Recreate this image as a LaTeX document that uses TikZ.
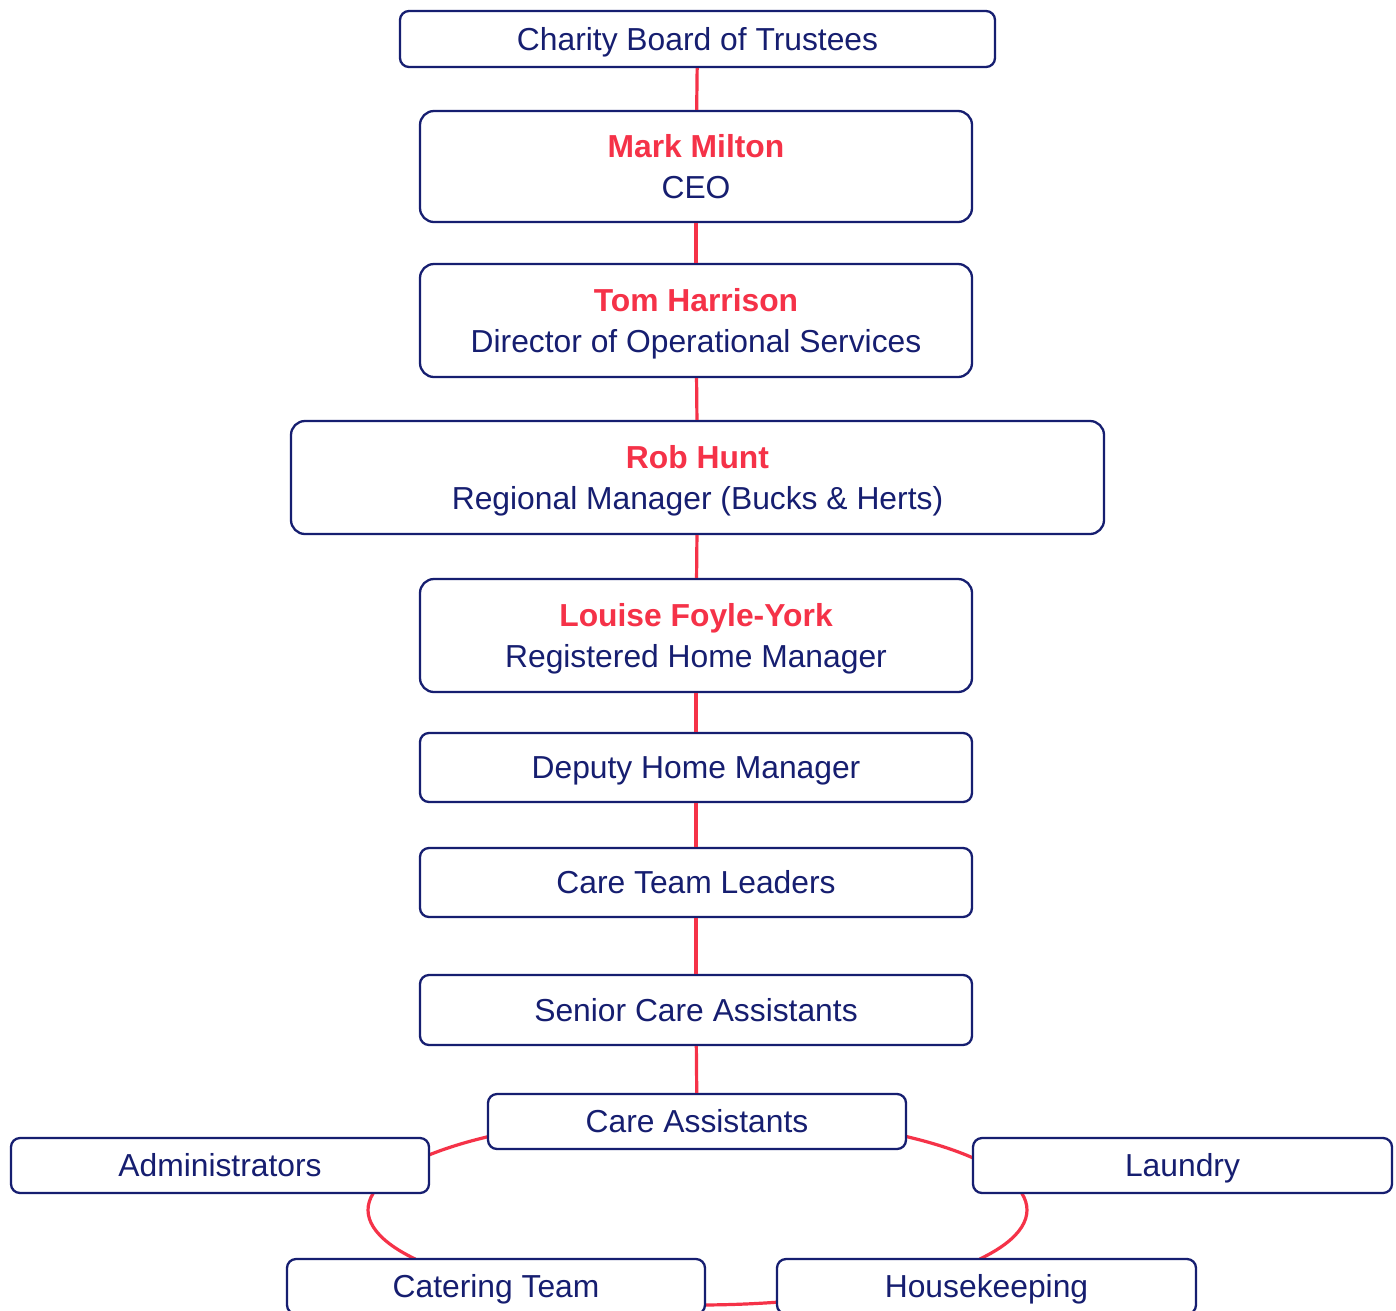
\documentclass[tikz,border=0pt]{standalone}
\usepackage{fontspec}
\setmainfont{Liberation Sans}
\definecolor{navy}{RGB}{22,30,112}
\definecolor{redc}{RGB}{245,50,72}
\begin{document}
\begin{tikzpicture}[x=1pt,y=-1pt,
  box/.style={draw=navy, line width=2.3pt, rounded corners=9pt, fill=white, text=navy,
    align=center, inner sep=0pt, text height=22.5pt, text depth=0pt,
    font=\fontsize{31.8}{41}\selectfont},
  bigbox/.style={box, rounded corners=14pt, text height=64pt},
  link/.style={draw=redc, line width=3.2pt}]
\useasboundingbox (0,0) rectangle (1396,1310);
\fill[white] (0,0) rectangle (1396,1310);
% ring connectors
\coordinate (rc) at (697.5,1210);
\draw[link] (rc) ++(230.6:329.5 and 95) arc[start angle=230.6,end angle=215.4,x radius=329.5,y radius=95];
\draw[link] (rc) ++(190.3:329.5 and 95) arc[start angle=190.3,end angle=148.9,x radius=329.5,y radius=95];
\draw[link] (rc) ++(88.6:329.5 and 95) arc[start angle=88.6,end angle=75.9,x radius=329.5,y radius=95];
\draw[link] (rc) ++(31.06:329.5 and 95) arc[start angle=31.06,end angle=-10.3,x radius=329.5,y radius=95];
\draw[link] (rc) ++(-33:329.5 and 95) arc[start angle=-33,end angle=-50.6,x radius=329.5,y radius=95];
% nodes
\node[box, minimum width=595, minimum height=56] (bt) at (697.5,39) {Charity Board of Trustees};
\node[bigbox, minimum width=552, minimum height=111] (mm) at (696,166.5) {{\color{redc}\bfseries Mark Milton}\\CEO};
\node[bigbox, minimum width=552, minimum height=113] (th) at (696,320.5) {{\color{redc}\bfseries Tom Harrison}\\Director of Operational Services};
\node[bigbox, minimum width=813, minimum height=113] (rh) at (697.5,477.5) {{\color{redc}\bfseries Rob Hunt}\\Regional Manager (Bucks \& Herts)};
\node[bigbox, minimum width=552, minimum height=113] (lf) at (696,635.5) {{\color{redc}\bfseries Louise Foyle-York}\\Registered Home Manager};
\node[box, minimum width=552, minimum height=69] (dh) at (696,767.5) {Deputy Home Manager};
\node[box, minimum width=552, minimum height=69] (ct) at (696,882.5) {Care Team Leaders};
\node[box, minimum width=552, minimum height=70] (sc) at (696,1010) {Senior Care Assistants};
\node[box, minimum width=418, minimum height=55] (ca) at (697,1121.5) {Care Assistants};
\node[box, minimum width=418, minimum height=55] (ad) at (220,1165.5) {Administrators};
\node[box, minimum width=419, minimum height=55] (la) at (1182.5,1165.5) {Laundry};
\node[box, minimum width=418, minimum height=55] (cat) at (496,1286.5) {Catering Team};
\node[box, minimum width=419, minimum height=55] (hk) at (986.5,1286.5) {Housekeeping};
% vertical connectors
\draw[link] (bt) -- (mm);
\draw[link] (mm) -- (th);
\draw[link] (th) -- (rh);
\draw[link] (rh) -- (lf);
\draw[link] (lf) -- (dh);
\draw[link] (dh) -- (ct);
\draw[link] (ct) -- (sc);
\draw[link] (sc) -- (ca);
\end{tikzpicture}
\end{document}
